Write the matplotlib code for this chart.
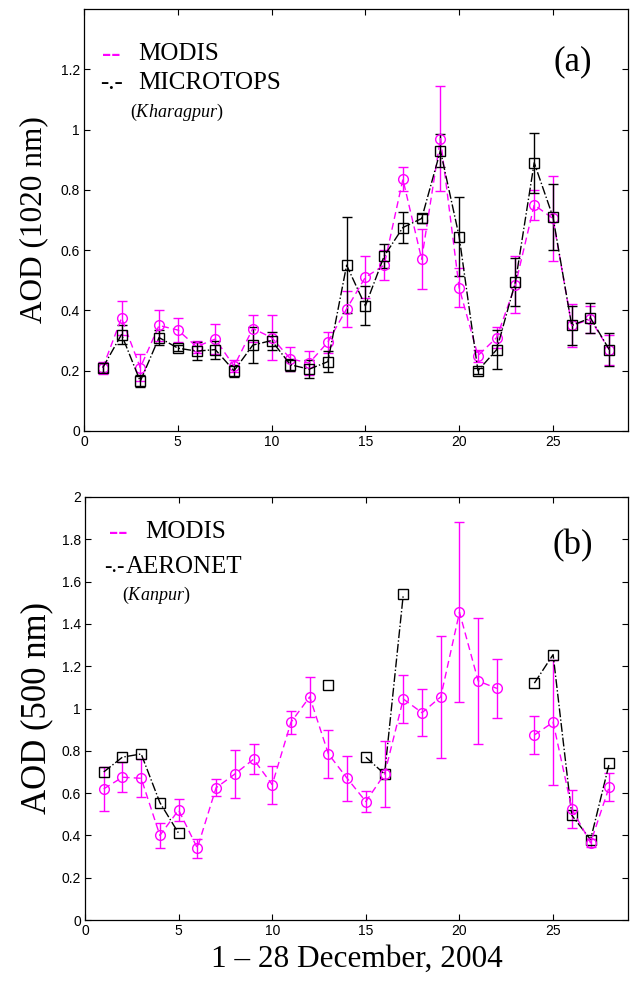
import numpy as np
import matplotlib
matplotlib.use("Agg")
import matplotlib.pyplot as plt

nan = np.nan
days = np.arange(1, 29)

# panel (a): Kharagpur, 1020 nm
modis_a = [0.21, 0.375, 0.21, 0.35, 0.335, 0.28, 0.305, 0.215, 0.34, 0.31,
           0.24, 0.225, 0.295, 0.405, 0.51, 0.55, 0.835, 0.57, 0.97, 0.475,
           0.25, 0.31, 0.485, 0.75, 0.705, 0.35, 0.37, 0.27]
modis_a_err = [0.02, 0.055, 0.045, 0.05, 0.04, 0.02, 0.05, 0.02, 0.045, 0.075,
               0.04, 0.04, 0.035, 0.06, 0.07, 0.05, 0.04, 0.1, 0.175, 0.065,
               0.02, 0.035, 0.095, 0.05, 0.14, 0.07, 0.045, 0.05]
microtops = [0.21, 0.32, 0.165, 0.31, 0.275, 0.265, 0.27, 0.2, 0.285, 0.30,
             0.22, 0.205, 0.23, 0.55, 0.415, 0.58, 0.675, 0.705, 0.93, 0.645,
             0.2, 0.27, 0.495, 0.89, 0.71, 0.35, 0.375, 0.27]
microtops_err = [0.015, 0.03, 0.02, 0.025, 0.01, 0.03, 0.03, 0.02, 0.06, 0.03,
                 0.02, 0.03, 0.035, 0.16, 0.065, 0.04, 0.05, 0.015, 0.055, 0.13,
                 0.01, 0.065, 0.08, 0.1, 0.11, 0.065, 0.05, 0.055]

# panel (b): Kanpur, 500 nm
modis_b = [0.62, 0.675, 0.67, 0.40, 0.52, 0.34, 0.625, 0.69, 0.76, 0.64,
           0.935, 1.055, 0.785, 0.67, 0.56, 0.69, 1.045, 0.98, 1.055, 1.455,
           1.13, 1.095, nan, 0.875, 0.935, 0.525, 0.365, 0.63]
modis_b_err = [0.105, 0.07, 0.09, 0.06, 0.05, 0.045, 0.04, 0.115, 0.07, 0.09,
               0.055, 0.095, 0.115, 0.105, 0.05, 0.155, 0.115, 0.11, 0.29, 0.425,
               0.3, 0.14, nan, 0.09, 0.295, 0.09, 0.02, 0.065]
aeronet = [0.70, 0.77, 0.785, 0.555, 0.41, nan, nan, nan, nan, nan,
           nan, nan, 1.11, nan, 0.77, 0.69, 1.54, nan, nan, nan,
           nan, nan, nan, 1.12, 1.255, 0.495, 0.38, 0.74]

MAG = "#ff00ff"
W, H = 630, 982
SERIF = "Liberation Serif"
SANS = "Liberation Sans"

plt.rcParams["mathtext.fontset"] = "custom"
plt.rcParams["mathtext.it"] = "Liberation Serif:italic"
plt.rcParams["mathtext.rm"] = "Liberation Serif"


def px(x, y):
    return x / W, 1 - y / H


def style_axes(ax, ylim, yticks):
    ax.set_xlim(0, 29)
    ax.set_ylim(*ylim)
    ax.set_xticks([0, 5, 10, 15, 20, 25])
    ax.set_yticks(yticks)
    ax.set_yticklabels([f"{t:g}" for t in yticks])
    ax.tick_params(direction="in", length=4, width=0.8, top=True, right=True,
                   labelsize=10, pad=3)
    for lab in ax.get_xticklabels() + ax.get_yticklabels():
        lab.set_fontfamily(SANS)
    for s in ax.spines.values():
        s.set_linewidth(0.9)


fig = plt.figure(figsize=(W / 100, H / 100), dpi=100)
ax1 = fig.add_axes([84 / W, 1 - 431 / H, 544 / W, 422 / H])
ax2 = fig.add_axes([85 / W, 1 - 920 / H, 543 / W, 423 / H])

# (a)
ax1.errorbar(days, modis_a, yerr=modis_a_err, color=MAG, ls="--", lw=1.0,
             marker="o", ms=7, mfc="none", mec=MAG, mew=1.0,
             capsize=3.5, elinewidth=1.0, dashes=(5, 3))
ax1.errorbar(days, microtops, yerr=microtops_err, color="black", ls="-.",
             lw=1.0, marker="s", ms=7.5, mfc="none", mec="black", mew=1.0,
             capsize=3.5, elinewidth=1.0)
style_axes(ax1, (0, 1.4), [0, 0.2, 0.4, 0.6, 0.8, 1.0, 1.2])
ax1.set_ylabel("AOD (1020 nm)", fontfamily=SERIF, fontsize=22.5, labelpad=9)

# (b)
ax2.errorbar(days, modis_b, yerr=modis_b_err, color=MAG, ls="--", lw=1.0,
             marker="o", ms=7, mfc="none", mec=MAG, mew=1.0,
             capsize=3.5, elinewidth=1.0, dashes=(5, 3))
ax2.plot(days, aeronet, color="black", ls="-.", lw=1.0, marker="s", ms=7.5,
         mfc="none", mec="black", mew=1.0)
style_axes(ax2, (0, 2.0), [0, 0.2, 0.4, 0.6, 0.8, 1.0, 1.2, 1.4, 1.6, 1.8, 2.0])
ax2.set_ylabel("AOD (500 nm)", fontfamily=SERIF, fontsize=25, labelpad=6)
ax2.set_xlabel("1 \u2013 28 December, 2004", fontfamily=SERIF, fontsize=22.5,
               labelpad=5)

# hand-made legends and panel tags
fs = 18
fig.text(*px(102, 54), "--", color=MAG, fontfamily=SERIF, fontsize=20,
         fontweight="bold", va="center")
fig.text(*px(138, 54), "MODIS", fontfamily=SERIF, fontsize=fs, va="center")
fig.text(*px(100, 83), "-.-", fontfamily=SERIF, fontsize=fs, va="center")
fig.text(*px(138, 83), "MICROTOPS", fontfamily=SERIF, fontsize=fs, va="center")
fig.text(*px(130, 112), r"($\mathit{Kharagpur}$)", fontfamily=SERIF,
         fontsize=13, va="center")
fig.text(*px(573, 62), "(a)", fontfamily=SERIF, fontsize=25, ha="center",
         va="center")

fig.text(*px(109, 532), "--", color=MAG, fontfamily=SERIF, fontsize=20,
         fontweight="bold", va="center")
fig.text(*px(145, 532), "MODIS", fontfamily=SERIF, fontsize=fs, va="center")
fig.text(*px(104, 567), "-.-", fontfamily=SERIF, fontsize=16, va="center")
fig.text(*px(126, 567), "AERONET", fontfamily=SERIF, fontsize=fs, va="center")
fig.text(*px(122, 595), r"($\mathit{Kanpur}$)", fontfamily=SERIF,
         fontsize=13, va="center")
fig.text(*px(573, 546), "(b)", fontfamily=SERIF, fontsize=25, ha="center",
         va="center")

fig.savefig("out.png", dpi=100)
